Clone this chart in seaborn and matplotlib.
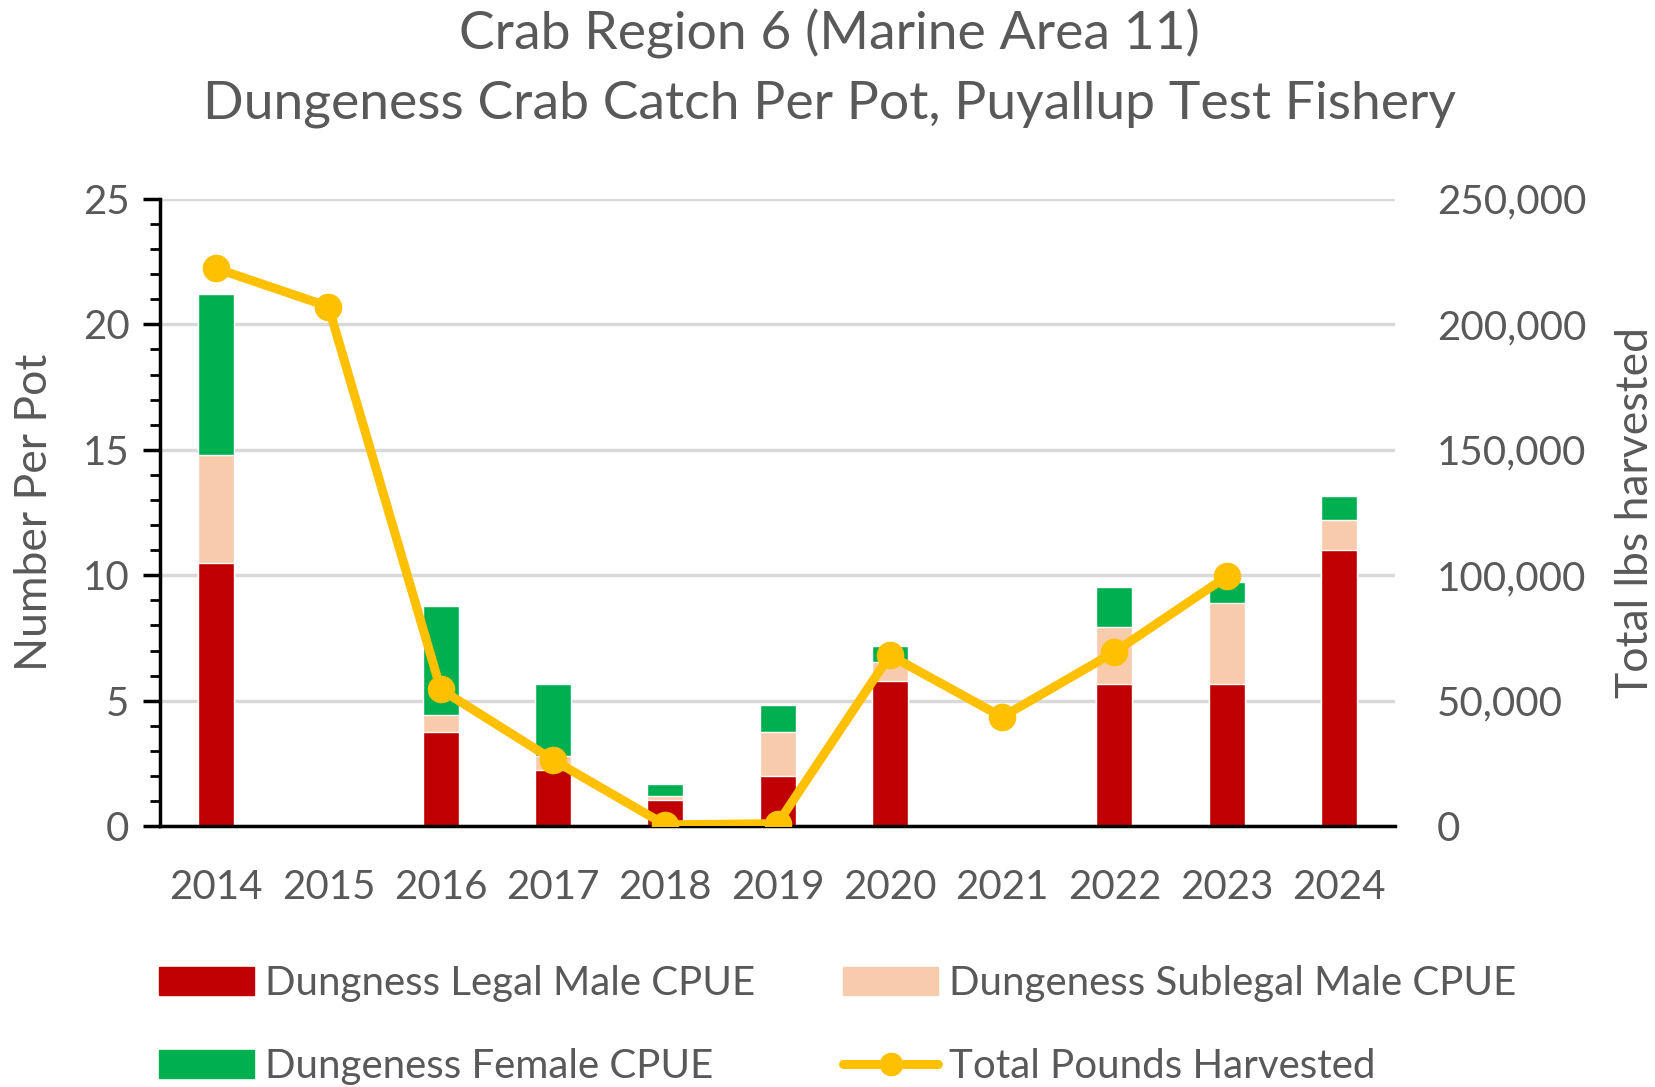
import numpy as np
import matplotlib.pyplot as plt
import seaborn as sns
import pandas as pd
from matplotlib.patches import Patch
from matplotlib.lines import Line2D

fuente = 29
grey = '#595959'

years = ['2014', '2015', '2016', '2017', '2018', '2019', '2020', '2021', '2022', '2023', '2024']
legal_male = [10.5, 0, 3.77, 2.23, 1.04, 1.98, 5.79, 0, 5.67, 5.67, 10.99]
sublegal_male = [4.3, 0, 0.66, 0.58, 0.16, 1.79, 0.74, 0, 2.26, 3.22, 1.21]
female = [6.4, 0, 4.36, 2.86, 0.49, 1.06, 0.66, 0, 1.62, 0.86, 0.94]
total_lbs = [222300, 207100, 54500, 26400, 500, 1000, 68100, 43500, 69400, 99500, np.nan]

c_legal = '#C00000'
c_sub = '#F8CBAD'
c_fem = '#00B050'
c_line = '#FFC000'

df = pd.DataFrame({'year': years, 'legal': legal_male, 'sub': sublegal_male,
                   'fem': female, 'lbs': total_lbs})
df['top_sub'] = df['legal'] + df['sub']
df['top_fem'] = df['top_sub'] + df['fem']

sns.set_style('white')
plt.rcParams['font.family'] = ['Lato', 'DejaVu Sans']

fig = plt.figure(figsize=(16.55, 10.87), dpi=100)
ax = fig.add_axes([0.0967, 0.240, 0.7463, 0.577])

# stacked bars drawn as overlapping cumulative totals
sns.barplot(x='year', y='top_fem', data=df, color=c_fem, width=0.32, saturation=1, ax=ax, zorder=2)
sns.barplot(x='year', y='top_sub', data=df, color=c_sub, width=0.32, saturation=1, ax=ax, zorder=2)
sns.barplot(x='year', y='legal', data=df, color=c_legal, width=0.32, saturation=1, ax=ax, zorder=2)

ax.set_ylim(0, 25)
ax.set_xlim(-0.5, 10.5)
ax.set_yticks(np.arange(0, 26, 5))
ax.set_yticks(np.arange(0, 26, 1), minor=True)
ax.yaxis.grid(True, color='#D9D9D9', linewidth=2.5, zorder=0)
ax.set_axisbelow(True)
for s in ['top', 'right']:
    ax.spines[s].set_visible(False)
ax.spines['left'].set_color('black')
ax.spines['left'].set_linewidth(2.5)
ax.spines['bottom'].set_color('black')
ax.spines['bottom'].set_linewidth(2.5)
ax.tick_params(axis='y', which='major', left=True, length=12, width=2.5, color='black',
               labelsize=fuente, labelcolor=grey, pad=10)
ax.tick_params(axis='y', which='minor', left=True, length=7, width=2, color='black')
ax.tick_params(axis='x', length=0, labelsize=fuente, labelcolor=grey, pad=31)
ax.set_xlabel('')
ax.set_ylabel('Number Per Pot', fontsize=32, color=grey)
ax.yaxis.set_label_coords(-0.085, 0.5)

ax2 = ax.twinx()
sns.pointplot(x='year', y='lbs', data=df, color=c_line, markers='o', linestyles='-',
              markersize=15, linewidth=6.5, ax=ax2)
ax2.set_ylim(0, 250000)
ax2.set_xlim(-0.5, 10.5)
ax2.set_yticks(np.arange(0, 250001, 50000))
ax2.set_yticklabels([f'{v:,}' for v in range(0, 250001, 50000)])
for s in ['top', 'right', 'left', 'bottom']:
    ax2.spines[s].set_visible(False)
ax2.tick_params(axis='y', length=0, labelsize=fuente, labelcolor=grey, pad=30)
ax2.set_ylabel('Total lbs harvested', fontsize=32, color=grey)
ax2.yaxis.set_label_coords(1.178, 0.5)
ax2.set_xlabel('')
ax2.grid(False)

fig.text(0.501, 0.969, 'Crab Region 6 (Marine Area 11)', ha='center', va='center',
         fontsize=38.5, color=grey)
fig.text(0.501, 0.904, 'Dungeness Crab Catch Per Pot, Puyallup Test Fishery', ha='center',
         va='center', fontsize=38.5, color=grey)

handles = [Patch(color=c_legal, label='Dungness Legal Male CPUE'),
           Patch(color=c_fem, label='Dungeness Female CPUE'),
           Patch(color=c_sub, label='Dungeness Sublegal Male CPUE'),
           Line2D([], [], color=c_line, linewidth=6.5, marker='o', markersize=16,
                  label='Total Pounds Harvested')]
leg = fig.legend(handles=handles, ncol=2, loc='center left', bbox_to_anchor=(0.084, 0.057),
                 frameon=False, fontsize=fuente, handlelength=2.36, handleheight=0.7,
                 handletextpad=0.26, columnspacing=2.2, labelspacing=1.15, borderpad=0)
for t in leg.get_texts():
    t.set_color(grey)

plt.savefig('out.png', dpi=100)
